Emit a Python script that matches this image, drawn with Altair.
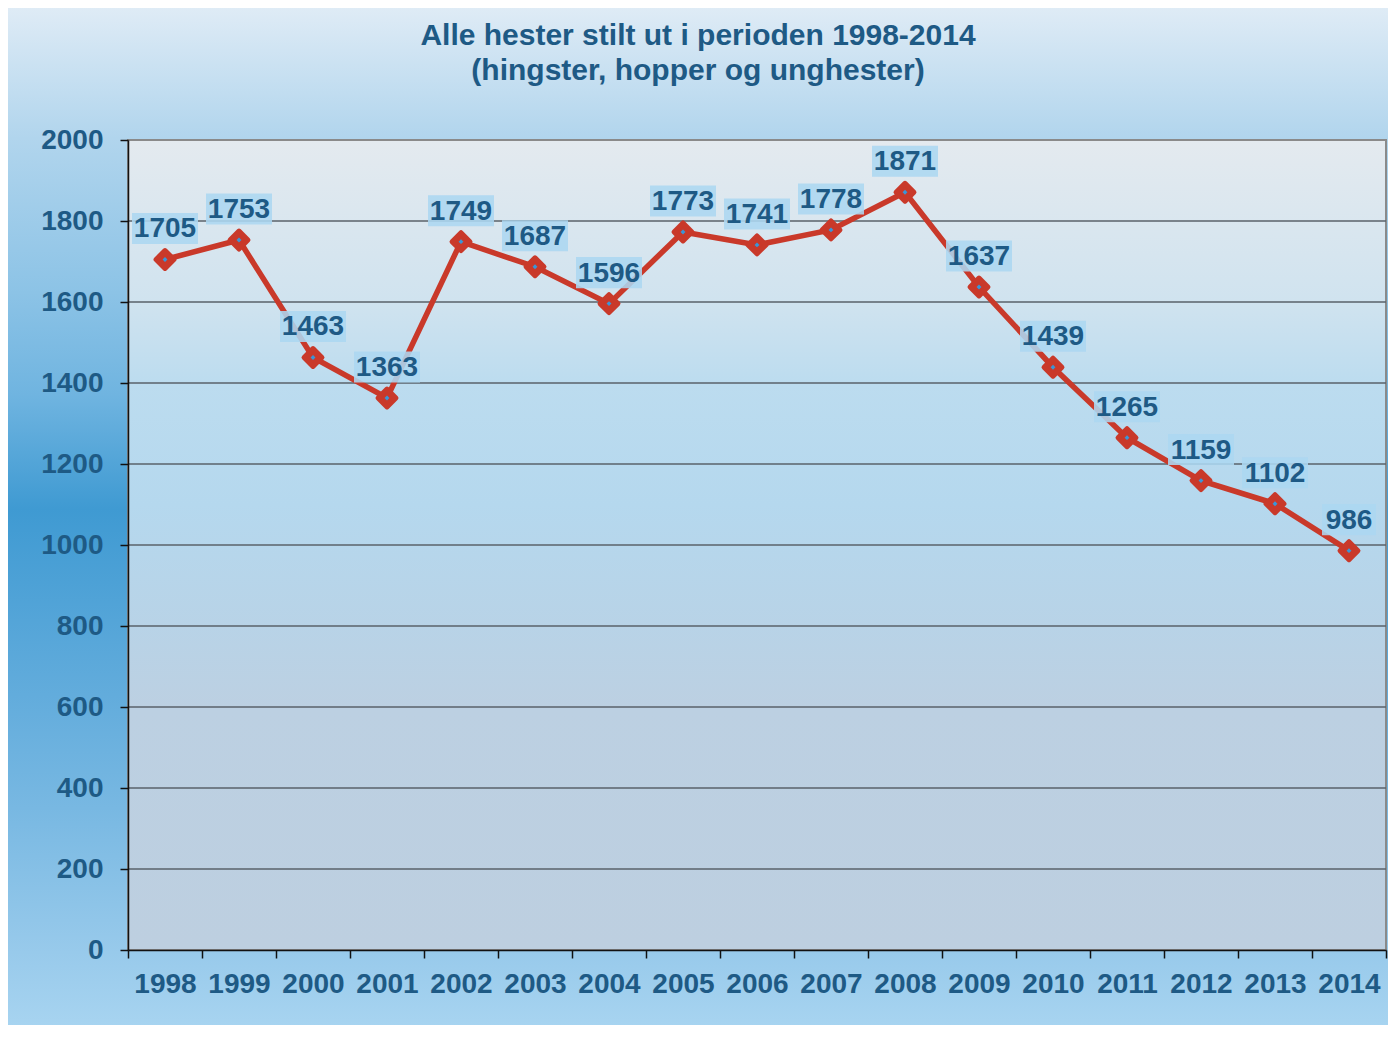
import altair as alt
import pandas as pd

years = ["1998", "1999", "2000", "2001", "2002", "2003", "2004", "2005", "2006",
         "2007", "2008", "2009", "2010", "2011", "2012", "2013", "2014"]
values = [1705, 1753, 1463, 1363, 1749, 1687, 1596, 1773, 1741,
          1778, 1871, 1637, 1439, 1265, 1159, 1102, 986]
y_ticks = [0, 200, 400, 600, 800, 1000, 1200, 1400, 1600, 1800, 2000]
title_lines = ["Alle hester stilt ut i perioden 1998-2014", "(hingster, hopper og unghester)"]

df = pd.DataFrame({"year": years, "v": values})
grid_df = pd.DataFrame({"v": y_ticks[1:-1]})
one = pd.DataFrame({"a": [0]})

W, H = 1258, 810
FONT = "Liberation Sans"
TXT = "#1e5a85"
RED = "#c9392a"

outer_grad = alt.LinearGradient(
    gradient="linear", x1=0, y1=0, x2=0, y2=1,
    stops=[
        alt.GradientStop(offset=0.0, color="#e0ecf6"),
        alt.GradientStop(offset=0.13, color="#b1d5ed"),
        alt.GradientStop(offset=0.28, color="#8cc3e6"),
        alt.GradientStop(offset=0.38, color="#6fb4e0"),
        alt.GradientStop(offset=0.49, color="#3f9ad2"),
        alt.GradientStop(offset=0.67, color="#62acdc"),
        alt.GradientStop(offset=0.78, color="#78b8e2"),
        alt.GradientStop(offset=0.92, color="#98caeb"),
        alt.GradientStop(offset=1.0, color="#a9d5f1"),
    ],
)
plot_grad = alt.LinearGradient(
    gradient="linear", x1=0, y1=0, x2=0, y2=1,
    stops=[
        alt.GradientStop(offset=0.0, color="#e4eaef"),
        alt.GradientStop(offset=0.2, color="#d0e3ef"),
        alt.GradientStop(offset=0.3, color="#bcdcef"),
        alt.GradientStop(offset=0.45, color="#b5d8ee"),
        alt.GradientStop(offset=0.6, color="#b8d3e7"),
        alt.GradientStop(offset=0.7, color="#bcd0e2"),
        alt.GradientStop(offset=1.0, color="#bdcfe0"),
    ],
)

outer = alt.Chart(one).mark_rect(
    color=outer_grad, stroke="#2b2b2b", strokeWidth=2
).encode(
    x=alt.value(-123), x2=alt.value(W + 6), y=alt.value(-136), y2=alt.value(H + 85)
)
plotbg = alt.Chart(one).mark_rect(
    color=plot_grad, stroke="#8a8a8a", strokeWidth=2
).encode(
    x=alt.value(0), x2=alt.value(W), y=alt.value(0), y2=alt.value(H)
)

x_enc = alt.X(
    "year:O",
    sort=years,
    scale=alt.Scale(type="band", paddingInner=0, paddingOuter=0),
    axis=alt.Axis(
        title=None, labelAngle=0, tickBand="extent", grid=False, zindex=1,
        labelFont=FONT, labelFontSize=28, labelFontWeight="bold", labelColor=TXT,
        domainColor="#111111", domainWidth=1.5, tickColor="#111111", tickWidth=1.5,
        tickSize=8, labelPadding=12,
    ),
)
y_enc = alt.Y(
    "v:Q",
    scale=alt.Scale(domain=[0, 2000], nice=False),
    axis=alt.Axis(
        title=None, values=y_ticks, grid=False, zindex=1, format="d",
        labelFont=FONT, labelFontSize=28, labelFontWeight="bold", labelColor=TXT,
        domainColor="#111111", domainWidth=1.5, tickColor="#111111", tickWidth=1.5,
        tickSize=8, labelPadding=17,
    ),
)

gridlines = alt.Chart(grid_df).mark_rule(color="#5a626a", strokeWidth=1.6).encode(
    y=y_enc, x=alt.value(0), x2=alt.value(W)
)

base = alt.Chart(df).encode(x=x_enc, y=y_enc)

line = base.mark_line(color=RED, strokeWidth=5.5)
pts = base.mark_point(
    shape="diamond", filled=True, size=320, color=RED, stroke=RED,
    strokeWidth=5, strokeJoin="round", opacity=1
)
dots = base.mark_point(shape="diamond", filled=True, size=24, color="#3a96d8", opacity=1)

box4 = "M-1,-0.47H1V0.47H-1Z"
box3 = "M-1,-0.58H1V0.58H-1Z"
boxes = base.mark_point(filled=True, color="#acd7f1", opacity=0.88, yOffset=-31).encode(
    shape=alt.condition("datum.v < 1000", alt.value(box3), alt.value(box4)),
    size=alt.condition("datum.v < 1000", alt.value(2916), alt.value(4356)),
)
labels = base.mark_text(
    font=FONT, fontSize=28, fontWeight="bold", color=TXT, baseline="middle",
    align="center", dy=-30
).encode(text="v:Q")

chart = alt.layer(outer, plotbg, gridlines, line, pts, dots, boxes, labels).properties(
    width=W, height=H,
    padding={"left": 120, "top": 132, "right": 2, "bottom": 75},
    autosize=alt.AutoSizeParams(type="none"),
    title=alt.TitleParams(
        text=title_lines, font=FONT, fontSize=30, fontWeight="bold", color=TXT,
        anchor="middle", frame="group", dx=-59, offset=-83, lineHeight=35,
    ),
).configure_view(stroke=None)

chart.save("out.html", embed_options={"renderer": "svg", "actions": False})
